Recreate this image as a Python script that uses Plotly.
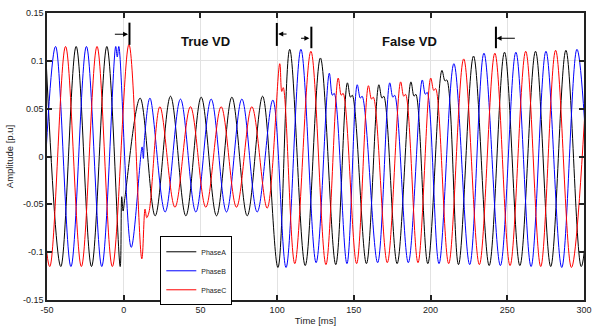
import plotly.graph_objects as go

# ---- data: turning points of each phase (time [ms], amplitude [p.u]) ----
phaseA_t = [-51, -41, -31, -21, -11, -2.3, -1.3, -0.4, 0.7,
            10.7, 20.5, 30.5, 40.5, 50.5, 60.5, 70.5, 80.5, 90.5,
            100.5, 108.2, 118.3, 128.2, 138.2, 145.8, 147.8, 149.0, 158.2,
            166.3, 168.3, 169.5, 178.2, 187.2, 189.2, 190.4, 198.2,
            207.4, 209.4, 210.6, 218.2, 228.0, 238.2, 248.2, 258.2,
            268.4, 278.3, 288.2, 298.2, 308.2]
phaseA_v = [0.115, -0.115, 0.115, -0.115, 0.115, -0.115, -0.042, -0.057, -0.044,
            0.061, -0.062, 0.063, -0.062, 0.062, -0.062, 0.062, -0.062, 0.063,
            -0.116, 0.112, -0.114, 0.103, -0.113, 0.077, 0.062, 0.064, -0.112,
            0.075, 0.061, 0.063, -0.112, 0.078, 0.063, 0.065, -0.112,
            0.090, 0.079, 0.080, -0.113, 0.105, -0.114, 0.109, -0.114,
            0.110, -0.115, 0.111, -0.115, 0.112]

phaseB_t = [-54.4, -44.4, -34.4, -24.3, -14.3, -5.2, -4.2, -3.2,
            4.9, 12.0, 12.8, 13.6, 17.1, 27.0, 37.0, 47.0, 57.0, 67.0, 77.0, 87.0, 97.2,
            105.8, 115.5, 125.4, 134.0, 136.0, 137.2, 145.5, 152.2, 154.2, 155.4,
            165.5, 173.4, 175.4, 176.6, 185.5, 194.6, 196.6, 197.8, 205.5,
            215.2, 225.5, 234.8, 245.5, 255.6, 265.5, 275.2, 285.5, 295.4, 305.5]
phaseB_v = [-0.115, 0.115, -0.115, 0.115, -0.115, 0.115, 0.104, 0.115,
            -0.095, 0.010, -0.002, 0.020, 0.061, -0.058, 0.060, -0.058, 0.060, -0.058, 0.060, -0.058, 0.059,
            -0.116, 0.112, -0.111, 0.087, 0.064, 0.066, -0.112, 0.075, 0.061, 0.063,
            -0.111, 0.077, 0.062, 0.064, -0.111, 0.080, 0.065, 0.067, -0.112,
            0.097, -0.113, 0.108, -0.114, 0.109, -0.115, 0.110, -0.116, 0.112, -0.115]

phaseC_t = [-58.2, -48.2, -37.9, -27.6, -17.4, -7.4, 3.4,
            11.8, 13.9, 15.0, 16.5, 23.6, 33.4, 43.5, 53.5, 63.5, 73.5, 83.5, 93.5,
            101.7, 103.0, 104.0, 111.5, 122.0, 131.8, 139.8, 141.8, 143.0, 151.8,
            159.5, 161.5, 162.7, 171.8, 180.5, 182.5, 183.7, 191.8,
            200.1, 202.1, 203.3, 211.8, 221.6, 231.8, 241.9, 251.8,
            262.0, 271.8, 281.5, 291.8, 302.8]
phaseC_v = [0.115, -0.115, 0.115, -0.115, 0.115, -0.115, 0.117,
            -0.107, -0.055, -0.064, -0.058, 0.052, -0.053, 0.052, -0.053, 0.052, -0.053, 0.052, -0.054,
            0.097, 0.068, 0.072, -0.112, 0.110, -0.113, 0.082, 0.064, 0.066, -0.112,
            0.074, 0.060, 0.062, -0.111, 0.078, 0.063, 0.065, -0.111,
            0.082, 0.069, 0.071, -0.112, 0.102, -0.113, 0.108, -0.114,
            0.110, -0.115, 0.111, -0.116, 0.112]

series_names = ["PhaseA", "PhaseB", "PhaseC"]

x_ticks = [-50, 0, 50, 100, 150, 200, 250, 300]
x_ticktext = ["-50", "0", "50", "100", "150", "200", "250", "300"]
y_ticks = [-0.15, -0.1, -0.05, 0, 0.05, 0.1, 0.15]
y_ticktext = ["-0.15", "-0.1", "-0.05", "0", "0.05", "0.1", "0.15"]

# event markers (time in ms)
true_vd_start = 3.75
true_vd_end = 99.8
false_vd_start = 122.3
false_vd_end = 242.6

colors = ["#000000", "#0000ff", "#ff0000"]

fig = go.Figure()
for name, t, v, c in zip(series_names,
                         [phaseA_t, phaseB_t, phaseC_t],
                         [phaseA_v, phaseB_v, phaseC_v], colors):
    fig.add_trace(go.Scatter(x=t, y=v, mode="lines", name=name,
                             line=dict(color=c, width=1, shape="spline", smoothing=1)))

axis_common = dict(ticks="inside", ticklen=5, tickwidth=1.5, tickcolor="#222",
                   showline=True, linecolor="#222", linewidth=1.5, mirror="ticks",
                   showgrid=True, gridcolor="#e2e2e2", gridwidth=1, zeroline=False,
                   tickfont=dict(size=9, color="#222"))

fig.update_xaxes(range=[-50, 300], tickvals=x_ticks, ticktext=x_ticktext,
                 title=dict(text="Time [ms]", font=dict(size=9.5, color="#222"), standoff=4),
                 **axis_common)
fig.update_yaxes(range=[-0.15, 0.15], tickvals=y_ticks, ticktext=y_ticktext,
                 title=dict(text="Amplitude [p.u]", font=dict(size=9.5, color="#222"), standoff=8),
                 **axis_common)

# vertical bars
bars = [(true_vd_start, 0.1167, 0.1399), (true_vd_end, 0.1156, 0.1396),
        (false_vd_start, 0.1132, 0.1357), (false_vd_end, 0.1132, 0.1357)]
for xb, y0, y1 in bars:
    fig.add_shape(type="line", xref="x", yref="y", x0=xb, x1=xb, y0=y0, y1=y1,
                  line=dict(color="black", width=2))

# arrows: (head x, tail x, y)
arrows = [(true_vd_start - 0.9, true_vd_start - 10.5, 0.1278),
          (true_vd_end + 0.9, true_vd_end + 7.3, 0.128),
          (false_vd_start - 1.3, false_vd_start - 7.7, 0.1236),
          (false_vd_end + 0.4, false_vd_end + 13.3, 0.1236)]
for hx, tx, ya in arrows:
    fig.add_annotation(x=hx, y=ya, ax=tx, ay=ya, xref="x", yref="y", axref="x", ayref="y",
                       text="", showarrow=True, arrowhead=2, arrowsize=1, arrowwidth=1,
                       arrowcolor="black")

fig.add_annotation(x=53, y=0.12, xref="x", yref="y", text="<b>True VD</b>", showarrow=False,
                   font=dict(size=13, color="#111"))
fig.add_annotation(x=186, y=0.12, xref="x", yref="y", text="<b>False VD</b>", showarrow=False,
                   font=dict(size=13, color="#111"))

fig.update_layout(
    width=598, height=331,
    margin=dict(l=47, r=6, t=13, b=30),
    paper_bgcolor="white", plot_bgcolor="white",
    font=dict(family="Liberation Sans, Arial, sans-serif", size=9, color="#222"),
    showlegend=True,
    legend=dict(x=0.211, y=0.222, xanchor="left", yanchor="top",
                bordercolor="black", borderwidth=1, bgcolor="white",
                font=dict(size=7, color="#222"), tracegroupgap=0,
                entrywidth=100, entrywidthmode="pixels"),
)

fig.write_html("out.html")
